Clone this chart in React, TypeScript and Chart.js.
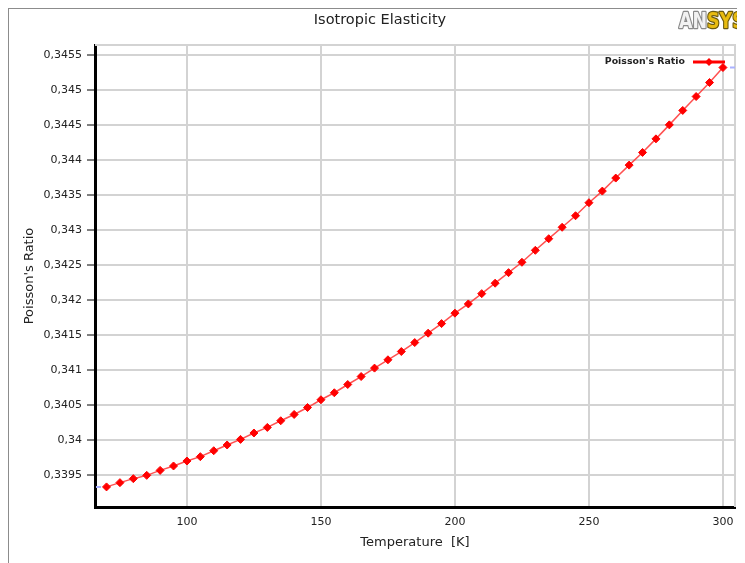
import React, { useEffect, useRef } from "react";
import { Chart, registerables } from "chart.js";

Chart.register(...registerables);

const TITLE = "Isotropic Elasticity";
const X_TITLE = "Temperature  [K]";
const Y_TITLE = "Poisson's Ratio";
const SERIES_LABEL = "Poisson's Ratio";

const TEMPS = [
  70, 75, 80, 85, 90, 95, 100, 105, 110, 115, 120, 125, 130, 135, 140, 145,
  150, 155, 160, 165, 170, 175, 180, 185, 190, 195, 200, 205, 210, 215, 220,
  225, 230, 235, 240, 245, 250, 255, 260, 265, 270, 275, 280, 285, 290, 295, 300,
];

const POISSON = [
  0.33933, 0.339391, 0.339448, 0.339495, 0.339566, 0.339629, 0.3397, 0.339762,
  0.339847, 0.339929, 0.340009, 0.3401, 0.34018, 0.340275, 0.340365, 0.340464,
  0.340575, 0.340675, 0.340793, 0.340907, 0.341027, 0.341146, 0.341264,
  0.341392, 0.341526, 0.341663, 0.341812, 0.341944, 0.342091, 0.34224,
  0.342391, 0.342539, 0.34271, 0.342876, 0.343039, 0.343204, 0.34339,
  0.343556, 0.343742, 0.343927, 0.344108, 0.344302, 0.344502, 0.344708,
  0.344907, 0.345107, 0.345321,
];

const Y_TICKS = [
  0.3395, 0.34, 0.3405, 0.341, 0.3415, 0.342, 0.3425, 0.343, 0.3435, 0.344,
  0.3445, 0.345, 0.3455,
];
const Y_TICK_LABELS = [
  "0,3395", "0,34", "0,3405", "0,341", "0,3415", "0,342", "0,3425", "0,343",
  "0,3435", "0,344", "0,3445", "0,345", "0,3455",
];
const X_TICKS = [100, 150, 200, 250, 300];
const X_TICK_LABELS = ["100", "150", "200", "250", "300"];

const X_MIN = 65.7;
const X_MAX = 304.5;
const Y_MIN = 0.339043;
const Y_MAX = 0.345643;

const FONT = "'DejaVu Sans', 'Liberation Sans', sans-serif";

const decorPlugin = {
  id: "decor",
  beforeDatasetsDraw(chart: any) {
    const { ctx, chartArea } = chart;
    ctx.save();
    ctx.strokeStyle = "#d3d3d3";
    ctx.lineWidth = 2;
    ctx.beginPath();
    ctx.moveTo(chartArea.left, chartArea.top);
    ctx.lineTo(chartArea.right, chartArea.top);
    ctx.lineTo(chartArea.right, chartArea.bottom);
    ctx.stroke();
    // small value markers at the first / last point levels
    const y = chart.scales.y;
    ctx.strokeStyle = "#aab2ff";
    ctx.lineWidth = 2;
    const y0 = y.getPixelForValue(POISSON[0]);
    const y1 = y.getPixelForValue(POISSON[POISSON.length - 1]);
    ctx.beginPath();
    ctx.moveTo(chartArea.left + 1, y0);
    ctx.lineTo(chartArea.left + 6, y0);
    ctx.moveTo(chartArea.right - 5, y1);
    ctx.lineTo(chartArea.right, y1);
    ctx.stroke();
    ctx.restore();
  },
  afterDraw(chart: any) {
    const { ctx } = chart;
    ctx.save();
    // title
    ctx.font = `14.5px ${FONT}`;
    ctx.fillStyle = "#222";
    ctx.textAlign = "center";
    ctx.textBaseline = "middle";
    ctx.fillText(TITLE, 371, 11);
    // legend
    ctx.font = `bold 9.4px ${FONT}`;
    ctx.fillStyle = "#222";
    ctx.textAlign = "right";
    ctx.textBaseline = "middle";
    ctx.fillText(SERIES_LABEL, 676, 53);
    ctx.strokeStyle = "#ff0000";
    ctx.lineWidth = 3;
    ctx.beginPath();
    ctx.moveTo(684, 53);
    ctx.lineTo(716, 53);
    ctx.stroke();
    ctx.fillStyle = "#ff0000";
    ctx.beginPath();
    ctx.moveTo(700, 49);
    ctx.lineTo(704, 53);
    ctx.lineTo(700, 57);
    ctx.lineTo(696, 53);
    ctx.closePath();
    ctx.fill();
    // logo
    ctx.translate(670, 19);
    ctx.scale(0.88, 1);
    ctx.font = `bold 22px 'DejaVu Sans Condensed', ${FONT}`;
    ctx.textAlign = "left";
    ctx.textBaseline = "alphabetic";
    ctx.lineJoin = "round";
    ctx.lineWidth = 2.5;
    ctx.strokeStyle = "#8a8a8a";
    ctx.strokeText("AN", 0, 0);
    ctx.fillStyle = "#f2f2f2";
    ctx.fillText("AN", 0, 0);
    const w = ctx.measureText("AN").width;
    ctx.strokeStyle = "#6b5a10";
    ctx.strokeText("SYS", w, 0);
    ctx.fillStyle = "#e8bb10";
    ctx.fillText("SYS", w, 0);
    ctx.restore();
  },
};

export default function App() {
  const ref = useRef<HTMLCanvasElement>(null);
  useEffect(() => {
    const chart = new Chart(ref.current as HTMLCanvasElement, {
      type: "line",
      data: {
        datasets: [
          {
            label: SERIES_LABEL,
            data: TEMPS.map((t, i) => ({ x: t, y: POISSON[i] })),
            borderColor: "rgba(255,50,50,0.85)",
            borderWidth: 1.5,
            pointStyle: "rectRot",
            pointRadius: 4,
            pointBackgroundColor: "#ff0000",
            pointBorderColor: "#ff0000",
            pointBorderWidth: 1,
            tension: 0,
          },
        ],
      },
      options: {
        responsive: false,
        animation: false,
        devicePixelRatio: 1,
        layout: { padding: { left: 0, right: 10, top: 36, bottom: 0 } },
        plugins: {
          legend: { display: false },
          tooltip: { enabled: false },
          title: { display: false },
        },
        scales: {
          x: {
            type: "linear",
            min: X_MIN,
            max: X_MAX,
            afterBuildTicks: (s: any) => {
              s.ticks = X_TICKS.map((v) => ({ value: v }));
            },
            afterFit: (s: any) => {
              s.height = 56;
            },
            grid: { color: "#d3d3d3", lineWidth: 2, drawTicks: false },
            border: { display: true, color: "#000", width: 3 },
            ticks: {
              padding: 9,
              color: "#222",
              font: { family: FONT, size: 11 },
              maxRotation: 0,
              autoSkip: false,
              callback: (_v: any, i: number) => X_TICK_LABELS[i],
            },
            title: {
              display: true,
              text: X_TITLE,
              color: "#222",
              font: { family: FONT, size: 13 },
              padding: { top: 0, bottom: 13 },
            },
          },
          y: {
            type: "linear",
            min: Y_MIN,
            max: Y_MAX,
            afterBuildTicks: (s: any) => {
              s.ticks = Y_TICKS.map((v) => ({ value: v }));
            },
            afterFit: (s: any) => {
              s.width = 86;
            },
            grid: {
              color: "#d3d3d3",
              lineWidth: 2,
              drawTicks: true,
              tickLength: 8,
              tickColor: "#000",
              tickWidth: 1,
            },
            border: { display: true, color: "#000", width: 3 },
            ticks: {
              padding: 5,
              color: "#222",
              font: { family: FONT, size: 11 },
              autoSkip: false,
              callback: (_v: any, i: number) => Y_TICK_LABELS[i],
            },
            title: {
              display: true,
              text: Y_TITLE,
              color: "#222",
              font: { family: FONT, size: 13 },
              padding: { top: 13, bottom: 0 },
            },
          },
        },
      },
      plugins: [decorPlugin],
    } as any);
    return () => chart.destroy();
  }, []);

  return (
    <div
      style={{
        width: 736,
        height: 554,
        borderTop: "1px solid #8c8c8c",
        borderLeft: "1px solid #8c8c8c",
        background: "#fff",
      }}
    >
      <canvas ref={ref} width={736} height={554} style={{ display: "block" }} />
    </div>
  );
}
